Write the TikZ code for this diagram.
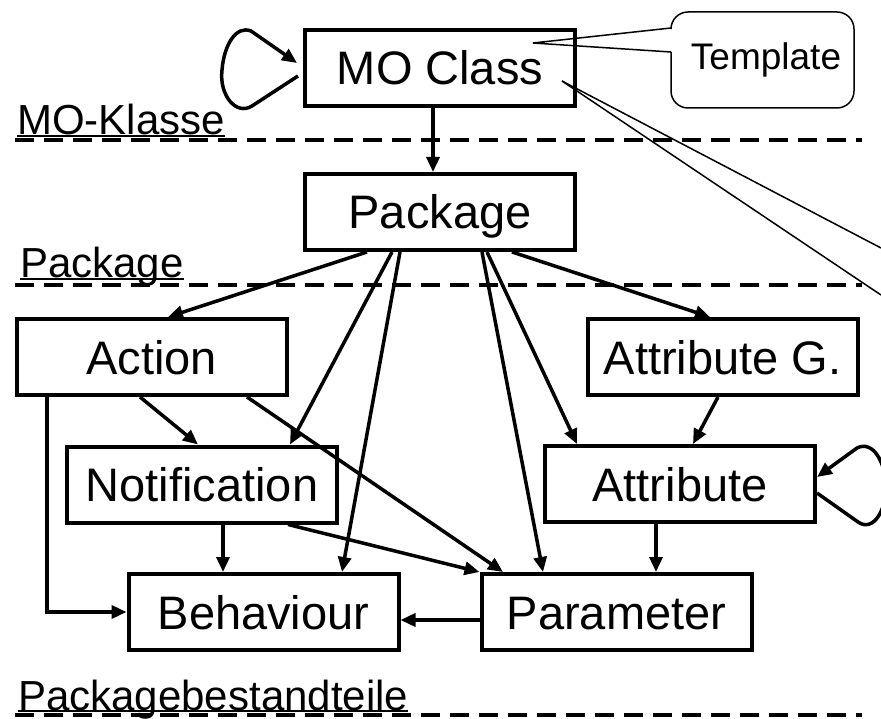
\documentclass[tikz,border=0pt]{standalone}
\usepackage{fontspec}
\setmainfont{Liberation Sans}
\usetikzlibrary{arrows.meta,calc}

\begin{document}
\begin{tikzpicture}[x=1pt,y=-1pt,
  box/.style={draw,line width=4pt,minimum width=270pt,minimum height=76pt,
    inner sep=0pt,font=\fontsize{47}{50}\selectfont,text height=34pt,text depth=0pt},
  link/.style={line width=3.5pt,-{Triangle[length=15pt,width=13pt]}},
  layer/.style={line width=4pt,dash pattern=on 19pt off 10pt},
  layertext/.style={anchor=base west,inner sep=0pt,font=\fontsize{42}{44}\selectfont},
  hairline/.style={line width=1.5pt}]
\useasboundingbox (0,0) rectangle (881,719);

% boxes
\node[box] (mo)   at (440,68)    {MO Class};
\node[box] (pkg)  at (440,212)   {Package};
\node[box] (act)  at (151.5,357) {Action};
\node[box] (attg) at (722.5,357) {Attribute G.};
\node[box] (note) at (202,484.5) {Notification};
\node[box] (attr) at (680,484)   {Attribute};
\node[box] (beh)  at (263.5,612) {Behaviour};
\node[box] (par)  at (616.5,612) {Parameter};

% layer labels and separators
\node[layertext] (lmo) at (17,135) {MO-Klasse};
\draw[hairline] ([yshift=-1pt]lmo.base west) -- ([yshift=-1pt]lmo.base east);
\draw[layer] (15,140) -- (862,140);

\node[layertext] (lpkg) at (20,278) {Package};
\draw[hairline] ([yshift=-1pt]lpkg.base west) -- ([yshift=-1pt]lpkg.base east);
\draw[layer] (15,285) -- (862,285);

\node[layertext] (lpart) at (18,710) {Packagebestandteile};
\draw[hairline] ([yshift=-1pt]lpart.base west) -- ([yshift=-1pt]lpart.base east);
\draw[layer] (15,715) -- (862,715);

% callout
\coordinate (tip) at (533,43);
\draw[hairline,rounded corners=17pt] (671,52) -- (671,108) -- (854,108) -- (854,12) -- (671,12) -- (671,28);
\draw[hairline] (671,28) -- (tip) -- (671,52);
\node[font=\fontsize{37}{40}\selectfont] (tpl) at (766,60) {Template};

% pointer lines leaving to the right
\coordinate (fan) at (562,81);
\coordinate (outa) at (881,248);
\coordinate (outb) at (881,295);
\draw[hairline] (fan) -- (outa);
\draw[hairline] (fan) -- (outb);

% self loops
\draw[link] ([xshift=-5pt,yshift=-8pt]mo.west) -- (252,106)
  .. controls (236,116) and (219,95) .. (222,70)
  .. controls (224,45) and (236,25) .. (251,31)
  -- ([xshift=-6pt,yshift=5pt]mo.west);
\draw[link] ([yshift=-9pt]attr.east) -- (858,522)
  .. controls (874,533) and (887,508) .. (886,485)
  .. controls (885,462) and (873,440) .. (857,448)
  -- ([yshift=7pt]attr.east);

% connectors
\draw[link] ([xshift=-7pt]mo.south) -- ([xshift=-7pt]pkg.north);
\draw[link] ([xshift=-73pt]pkg.south) -- ([xshift=16.5pt]act.north);
\draw[link] ([xshift=-48pt]pkg.south) -- ([xshift=88pt]note.north);
\draw[link] ([xshift=-40pt]pkg.south) -- ([xshift=78.5pt]beh.north);
\draw[link] ([xshift=42pt]pkg.south) -- ([xshift=-73.5pt]par.north);
\draw[link] ([xshift=47pt]pkg.south) -- ([xshift=-103pt]attr.north);
\draw[link] ([xshift=72pt]pkg.south) -- ([xshift=-12.5pt]attg.north);
\draw[link] ([xshift=-11.5pt]act.south) -- ([xshift=-4pt]note.north);
\draw[link] ([xshift=95.5pt]act.south) -- ([xshift=-113.5pt]par.north);
\draw[link] ([xshift=-104.5pt]act.south) |- (beh.west);
\draw[link] ([xshift=21pt]note.south) -- ([xshift=-40.5pt]beh.north);
\draw[link] ([xshift=86pt]note.south) -- (par.north west);
\draw[link] ([xshift=-4.5pt]attg.south) -- ([xshift=13pt]attr.north);
\draw[link] ([xshift=-24pt]attr.south) -- ([xshift=39.5pt]par.north);
\draw[link] ([yshift=-8pt]par.west) -- ([yshift=-8pt]beh.east);
\end{tikzpicture}
\end{document}
